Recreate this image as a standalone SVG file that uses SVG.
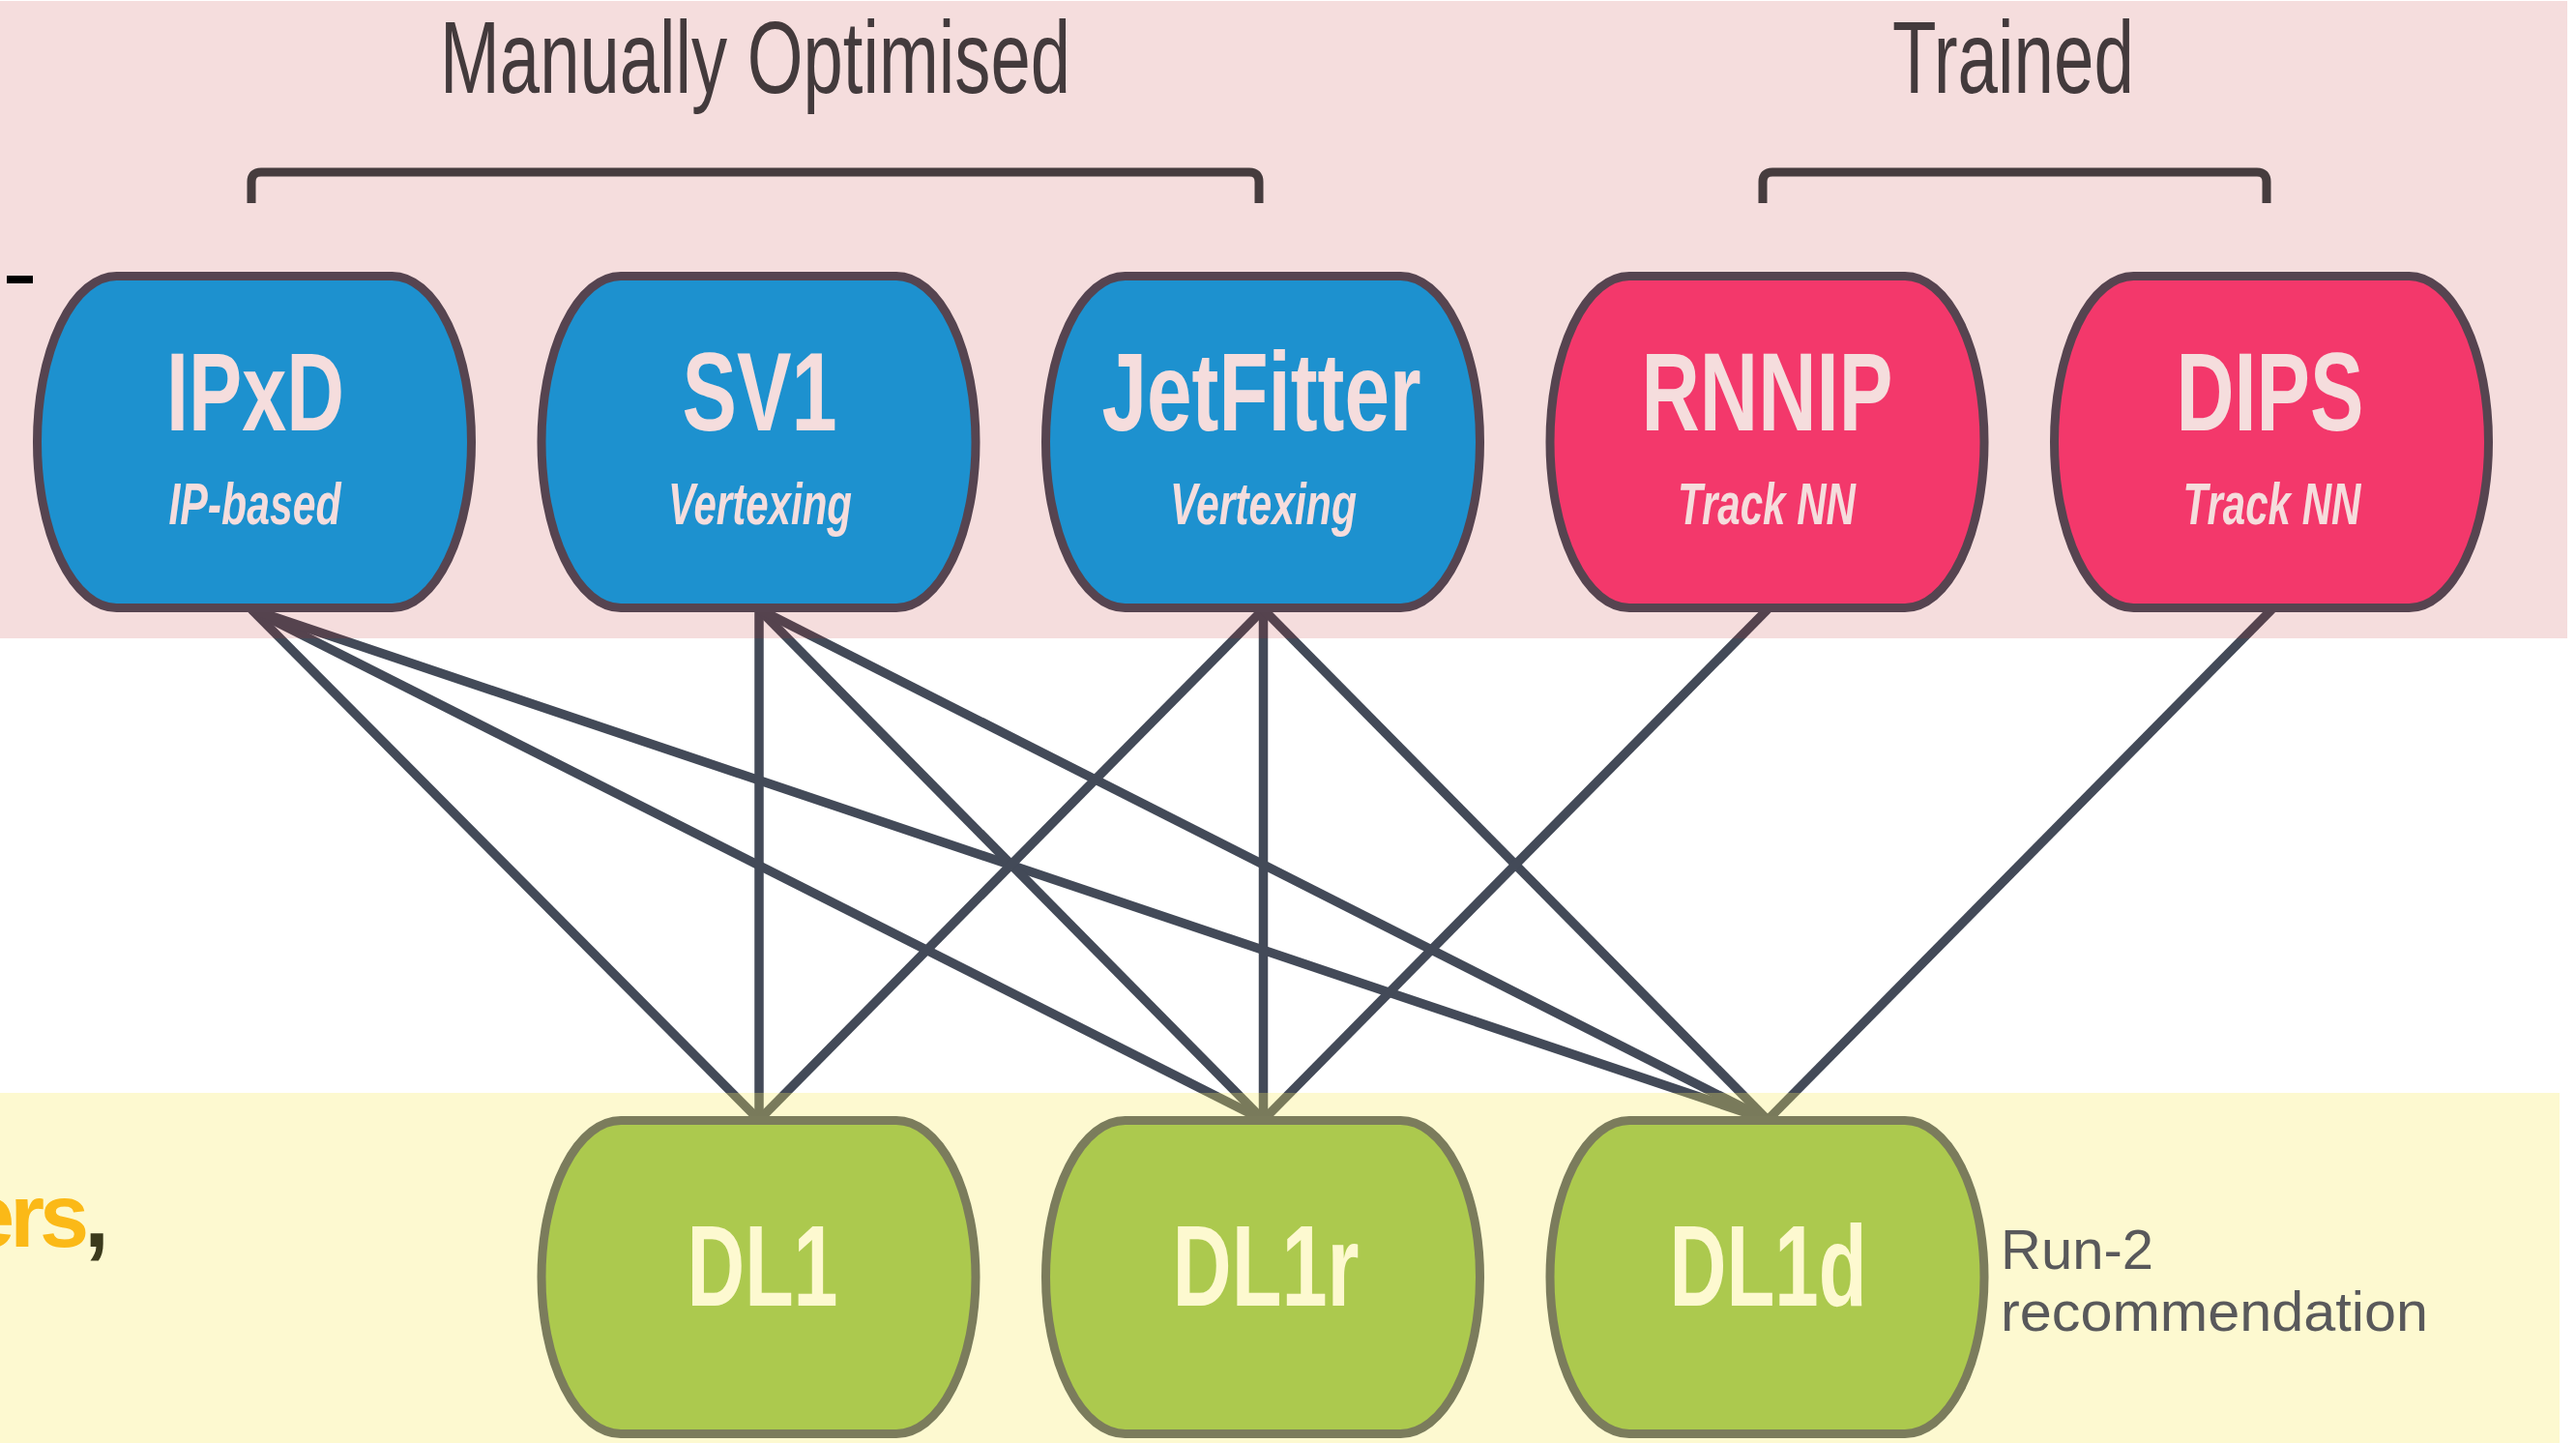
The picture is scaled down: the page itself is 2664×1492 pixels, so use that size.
<svg xmlns="http://www.w3.org/2000/svg" width="2664" height="1492" viewBox="0 0 2664 1492">
  <style>
    .edge { stroke: #434a58; stroke-width: 9.5; fill: none; stroke-linecap: butt; }
    .node rect { stroke: #454c5a; stroke-width: 9; }
    .tool rect { fill: #02a6ef; }
    .nn rect { fill: #fd3e7a; }
    .tagger rect { fill: #8bba45; }
    .name { font-family: "Liberation Sans", Arial, sans-serif; font-weight: 700; fill: #ffffff; text-anchor: middle; }
    .top .name { font-size: 115px; }
    .tagger .name { font-size: 118px; }
    .kind { font-family: "Liberation Sans", Arial, sans-serif; font-weight: 700; font-style: italic; font-size: 61px; fill: #ffffff; text-anchor: middle; }
    .title { font-family: "Liberation Sans", Arial, sans-serif; font-size: 106px; fill: #433a3c; text-anchor: middle; }
    .brace { stroke: #463c3e; stroke-width: 9; fill: none; stroke-linejoin: round; }
    .note { font-family: "Liberation Sans", Arial, sans-serif; font-size: 58px; fill: #59595b; }
  </style>

  <rect x="0" y="0" width="2664" height="1492" fill="#ffffff"/>

  <!-- connectors: inputs (top) to taggers (bottom) -->
  <g id="connectors">
    <line class="edge" x1="260" y1="630" x2="785" y2="1158"/>
    <line class="edge" x1="260" y1="630" x2="1306.5" y2="1158"/>
    <line class="edge" x1="260" y1="630" x2="1828" y2="1158"/>
    <line class="edge" x1="785" y1="630" x2="785" y2="1158"/>
    <line class="edge" x1="785" y1="630" x2="1306.5" y2="1158"/>
    <line class="edge" x1="785" y1="630" x2="1828" y2="1158"/>
    <line class="edge" x1="1306.5" y1="630" x2="785" y2="1158"/>
    <line class="edge" x1="1306.5" y1="630" x2="1306.5" y2="1158"/>
    <line class="edge" x1="1306.5" y1="630" x2="1828" y2="1158"/>
    <line class="edge" x1="1828" y1="630" x2="1306.5" y2="1158"/>
    <line class="edge" x1="2349.5" y1="630" x2="1828" y2="1158"/>
  </g>

  <!-- low-level inputs -->
  <g id="ipxd" class="node top tool">
    <rect x="38.5" y="285.5" width="449" height="343" rx="82" ry="171.5"/>
    <text class="name" x="264" y="445" textLength="184" lengthAdjust="spacingAndGlyphs">IPxD</text>
    <text class="kind" x="263.5" y="542" textLength="178" lengthAdjust="spacingAndGlyphs">IP-based</text>
  </g>
  <g id="sv1" class="node top tool">
    <rect x="560" y="285.5" width="449" height="343" rx="82" ry="171.5"/>
    <text class="name" x="785.5" y="445" textLength="160" lengthAdjust="spacingAndGlyphs">SV1</text>
    <text class="kind" x="786" y="542" textLength="190" lengthAdjust="spacingAndGlyphs">Vertexing</text>
  </g>
  <g id="jetfitter" class="node top tool">
    <rect x="1081.5" y="285.5" width="449" height="343" rx="82" ry="171.5"/>
    <text class="name" x="1304.5" y="445" textLength="330" lengthAdjust="spacingAndGlyphs">JetFitter</text>
    <text class="kind" x="1306.5" y="542" textLength="193" lengthAdjust="spacingAndGlyphs">Vertexing</text>
  </g>
  <g id="rnnip" class="node top nn">
    <rect x="1603" y="285.5" width="449" height="343" rx="82" ry="171.5"/>
    <text class="name" x="1827.5" y="445" textLength="260" lengthAdjust="spacingAndGlyphs">RNNIP</text>
    <text class="kind" x="1827" y="542" textLength="184" lengthAdjust="spacingAndGlyphs">Track NN</text>
  </g>
  <g id="dips" class="node top nn">
    <rect x="2124.5" y="285.5" width="449" height="343" rx="82" ry="171.5"/>
    <text class="name" x="2347.5" y="445" textLength="194" lengthAdjust="spacingAndGlyphs">DIPS</text>
    <text class="kind" x="2349.5" y="542" textLength="184" lengthAdjust="spacingAndGlyphs">Track NN</text>
  </g>

  <!-- high-level taggers -->
  <g id="dl1" class="node tagger">
    <rect x="560" y="1158.5" width="449" height="324" rx="82" ry="162"/>
    <text class="name" x="788.5" y="1350" textLength="156" lengthAdjust="spacingAndGlyphs">DL1</text>
  </g>
  <g id="dl1r" class="node tagger">
    <rect x="1081.5" y="1158.5" width="449" height="324" rx="82" ry="162"/>
    <text class="name" x="1309" y="1350" textLength="193" lengthAdjust="spacingAndGlyphs">DL1r</text>
  </g>
  <g id="dl1d" class="node tagger">
    <rect x="1603" y="1158.5" width="449" height="324" rx="82" ry="162"/>
    <text class="name" x="1828.5" y="1350" textLength="204" lengthAdjust="spacingAndGlyphs">DL1d</text>
  </g>

  <!-- translucent bands laid over the two rows -->
  <g id="bands">
    <rect x="0" y="1" width="2655" height="659" fill="#bc1c1c" fill-opacity="0.15"/>
    <rect x="0" y="1130" width="2647" height="362" fill="#f8eb62" fill-opacity="0.3"/>
  </g>

  <!-- group headings -->
  <g id="manual-group">
    <text class="title" x="781" y="96" textLength="652" lengthAdjust="spacingAndGlyphs">Manually Optimised</text>
    <path class="brace" d="M260,210 V188 Q260,178 270,178 H1292 Q1302,178 1302,188 V210"/>
  </g>
  <g id="trained-group">
    <text class="title" x="2082" y="96" textLength="250" lengthAdjust="spacingAndGlyphs">Trained</text>
    <path class="brace" d="M1823,210 V188 Q1823,178 1833,178 H2334 Q2344,178 2344,188 V210"/>
  </g>

  <!-- side notes -->
  <g id="run2-note">
    <text class="note" x="2069" y="1312">Run-2</text>
    <text class="note" x="2069" y="1376" textLength="442" lengthAdjust="spacingAndGlyphs">recommendation</text>
  </g>
  <text x="-36" y="1289" font-family="'Liberation Sans', Arial, sans-serif" font-weight="700" font-size="92" letter-spacing="-5"><tspan fill="#fbb917">ers</tspan><tspan fill="#3b3a1c">,</tspan></text>
  <rect x="7" y="285" width="27" height="8" fill="#000000"/>
</svg>
